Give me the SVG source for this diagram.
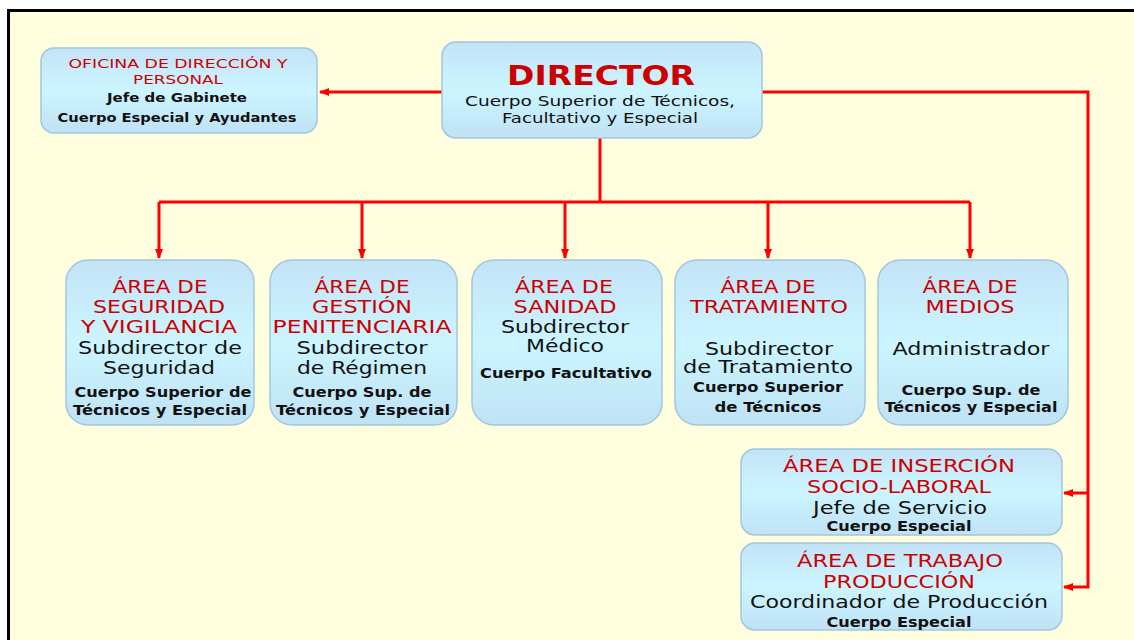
<svg xmlns="http://www.w3.org/2000/svg" width="1134" height="640" viewBox="0 0 1134 640">
<defs>
<linearGradient id="bg" x1="0" y1="0" x2="0" y2="1">
<stop offset="0" stop-color="#C3E3F7"/>
<stop offset="0.5" stop-color="#CCF5FF"/>
<stop offset="1" stop-color="#BFE2F5"/>
</linearGradient>
<marker id="ah" viewBox="0 0 10 10" refX="9" refY="5" markerWidth="10" markerHeight="10" markerUnits="userSpaceOnUse" orient="auto">
<path d="M0,1 L10,5 L0,9 Z" fill="#FF0000"/>
</marker>
<style>
.box{fill:url(#bg);stroke:#A3C6DC;stroke-width:1.5}
.ln{fill:none;stroke:#FF0000;stroke-width:3}
text{font-family:"DejaVu Sans","Verdana",sans-serif;text-anchor:middle}
.r{fill:#CC0000;font-size:17px}
.b{fill:#111;font-size:17px}
.s{fill:#111;font-size:14px;font-weight:bold}
.rs{fill:#CC0000;font-size:13px}
.bs{fill:#111;font-size:13px;font-weight:bold}
</style>
</defs>
<rect x="0" y="0" width="1134" height="640" fill="#FFFFFF"/>
<rect x="8.5" y="10.5" width="1140" height="650" fill="#FFFFE0" stroke="#000" stroke-width="3"/>

<g id="connectors">
<path class="ln" d="M442,92 H320" marker-end="url(#ah)"/>
<path class="ln" d="M762,92 H1088 V587 H1064" marker-end="url(#ah)"/>
<path class="ln" d="M1088,493 H1064" marker-end="url(#ah)"/>
<path class="ln" d="M600,138 V202"/>
<path class="ln" d="M159,202 H970"/>
<path class="ln" d="M159,202 V258" marker-end="url(#ah)"/>
<path class="ln" d="M362,202 V258" marker-end="url(#ah)"/>
<path class="ln" d="M565,202 V258" marker-end="url(#ah)"/>
<path class="ln" d="M768,202 V258" marker-end="url(#ah)"/>
<path class="ln" d="M970,202 V258" marker-end="url(#ah)"/>
</g>

<g id="director">
<rect class="box" x="442" y="42" width="320" height="96" rx="14"/>
<text x="601" y="85" textLength="188" lengthAdjust="spacingAndGlyphs" style="fill:#CC0000;font-size:27px;font-weight:bold">DIRECTOR</text>
<text x="600" y="106" textLength="270" lengthAdjust="spacingAndGlyphs" style="fill:#111;font-size:14.5px">Cuerpo Superior de Técnicos,</text>
<text x="600" y="123" textLength="196" lengthAdjust="spacingAndGlyphs" style="fill:#111;font-size:14.5px">Facultativo y Especial</text>
</g>

<g id="oficina">
<rect class="box" x="41" y="48" width="276" height="85" rx="13"/>
<text class="rs" x="178" y="68" textLength="219" lengthAdjust="spacingAndGlyphs">OFICINA DE DIRECCIÓN Y</text>
<text class="rs" x="178" y="84" textLength="90" lengthAdjust="spacingAndGlyphs">PERSONAL</text>
<text class="bs" x="177" y="102" textLength="140" lengthAdjust="spacingAndGlyphs">Jefe de Gabinete</text>
<text class="bs" x="177" y="122" textLength="239" lengthAdjust="spacingAndGlyphs">Cuerpo Especial y Ayudantes</text>
</g>

<g id="seguridad">
<rect class="box" x="66" y="260" width="188" height="165" rx="22"/>
<text class="r" x="160" y="293" textLength="95" lengthAdjust="spacingAndGlyphs">ÁREA DE</text>
<text class="r" x="159" y="313" textLength="132" lengthAdjust="spacingAndGlyphs">SEGURIDAD</text>
<text class="r" x="159" y="333" textLength="156" lengthAdjust="spacingAndGlyphs">Y VIGILANCIA</text>
<text class="b" x="160" y="354" textLength="164" lengthAdjust="spacingAndGlyphs">Subdirector de</text>
<text class="b" x="159" y="374" textLength="112" lengthAdjust="spacingAndGlyphs">Seguridad</text>
<text class="s" x="163" y="397" textLength="177" lengthAdjust="spacingAndGlyphs">Cuerpo Superior de</text>
<text class="s" x="160" y="415" textLength="174" lengthAdjust="spacingAndGlyphs">Técnicos y Especial</text>
</g>

<g id="gestion">
<rect class="box" x="270" y="260" width="187" height="165" rx="22"/>
<text class="r" x="362" y="293" textLength="95" lengthAdjust="spacingAndGlyphs">ÁREA DE</text>
<text class="r" x="362" y="313" textLength="100" lengthAdjust="spacingAndGlyphs">GESTIÓN</text>
<text class="r" x="362" y="333" textLength="179" lengthAdjust="spacingAndGlyphs">PENITENCIARIA</text>
<text class="b" x="362" y="354" textLength="131" lengthAdjust="spacingAndGlyphs">Subdirector</text>
<text class="b" x="362" y="374" textLength="130" lengthAdjust="spacingAndGlyphs">de Régimen</text>
<text class="s" x="362" y="397" textLength="139" lengthAdjust="spacingAndGlyphs">Cuerpo Sup. de</text>
<text class="s" x="363" y="415" textLength="174" lengthAdjust="spacingAndGlyphs">Técnicos y Especial</text>
</g>

<g id="sanidad">
<rect class="box" x="472" y="260" width="190" height="165" rx="22"/>
<text class="r" x="564" y="293" textLength="98" lengthAdjust="spacingAndGlyphs">ÁREA DE</text>
<text class="r" x="565" y="313" textLength="103" lengthAdjust="spacingAndGlyphs">SANIDAD</text>
<text class="b" x="565" y="333" textLength="128" lengthAdjust="spacingAndGlyphs">Subdirector</text>
<text class="b" x="565" y="352" textLength="78" lengthAdjust="spacingAndGlyphs">Médico</text>
<text class="s" x="566" y="378" textLength="172" lengthAdjust="spacingAndGlyphs">Cuerpo Facultativo</text>
</g>

<g id="tratamiento">
<rect class="box" x="675" y="260" width="190" height="165" rx="22"/>
<text class="r" x="768" y="293" textLength="95" lengthAdjust="spacingAndGlyphs">ÁREA DE</text>
<text class="r" x="769" y="313" textLength="158" lengthAdjust="spacingAndGlyphs">TRATAMIENTO</text>
<text class="b" x="769" y="355" textLength="128" lengthAdjust="spacingAndGlyphs">Subdirector</text>
<text class="b" x="768" y="373" textLength="170" lengthAdjust="spacingAndGlyphs">de Tratamiento</text>
<text class="s" x="768" y="392" textLength="150" lengthAdjust="spacingAndGlyphs">Cuerpo Superior</text>
<text class="s" x="768" y="412" textLength="107" lengthAdjust="spacingAndGlyphs">de Técnicos</text>
</g>

<g id="medios">
<rect class="box" x="878" y="260" width="190" height="165" rx="22"/>
<text class="r" x="970" y="293" textLength="95" lengthAdjust="spacingAndGlyphs">ÁREA DE</text>
<text class="r" x="970" y="313" textLength="89" lengthAdjust="spacingAndGlyphs">MEDIOS</text>
<text class="b" x="971" y="355" textLength="157" lengthAdjust="spacingAndGlyphs">Administrador</text>
<text class="s" x="971" y="395" textLength="139" lengthAdjust="spacingAndGlyphs">Cuerpo Sup. de</text>
<text class="s" x="971" y="412" textLength="173" lengthAdjust="spacingAndGlyphs">Técnicos y Especial</text>
</g>

<g id="insercion">
<rect class="box" x="741" y="449" width="321" height="86" rx="14"/>
<text class="r" x="899" y="472" textLength="232" lengthAdjust="spacingAndGlyphs">ÁREA DE INSERCIÓN</text>
<text class="r" x="899" y="493" textLength="184" lengthAdjust="spacingAndGlyphs">SOCIO-LABORAL</text>
<text class="b" x="900" y="514" textLength="174" lengthAdjust="spacingAndGlyphs">Jefe de Servicio</text>
<text class="s" x="899" y="531" textLength="145" lengthAdjust="spacingAndGlyphs">Cuerpo Especial</text>
</g>

<g id="produccion">
<rect class="box" x="741" y="543" width="321" height="87" rx="14"/>
<text class="r" x="900" y="567" textLength="206" lengthAdjust="spacingAndGlyphs">ÁREA DE TRABAJO</text>
<text class="r" x="899" y="588" textLength="152" lengthAdjust="spacingAndGlyphs">PRODUCCIÓN</text>
<text class="b" x="899" y="608" textLength="298" lengthAdjust="spacingAndGlyphs">Coordinador de Producción</text>
<text class="s" x="899" y="627" textLength="145" lengthAdjust="spacingAndGlyphs">Cuerpo Especial</text>
</g>
</svg>
